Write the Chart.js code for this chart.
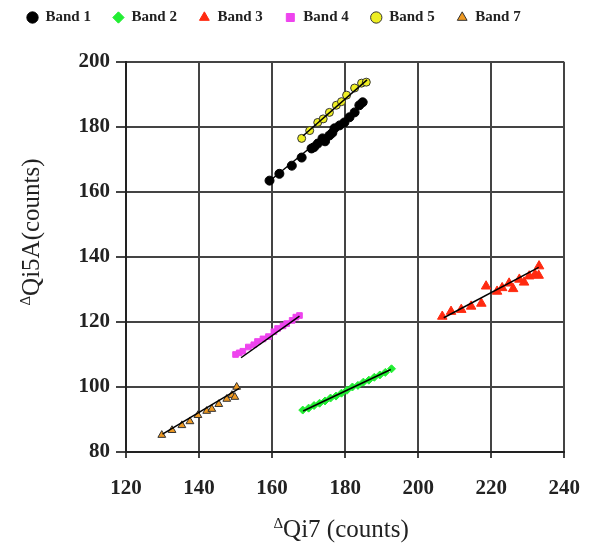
<!DOCTYPE html>
<html>
<head>
<meta charset="utf-8">
<script src="https://cdn.jsdelivr.net/npm/chart.js@4/dist/chart.umd.min.js"></script>
<style>
    html, body { margin: 0; padding: 0; background: #fff; }
    #wrap { width: 598px; height: 548px; }
</style>
</head>
<body>
<div id="wrap"><canvas id="chart-canvas"></canvas></div>
<script>
// Band data: [ΔQi7, ΔQi5A]
const band1 = [[159.3,163.5],[162,165.6],[165.4,168.1],[168.1,170.6],[170.8,173.4],[172.5,174.9],[173.8,176.5],[175.7,177.4],[177.1,179.6],[178.5,180.5],[179.8,181.4],[181.2,183],[182.6,184.5],[183.9,186.7],[184.8,187.6],[174.5,175.6],[176.5,178.2],[171.5,173.8]];
const band2 = [[168.4,92.9],[170,93.5],[171.5,94.3],[173,95],[174.5,95.7],[176,96.6],[177.5,97.2],[179,98.1],[180.5,99],[182,100],[183.5,100.5],[185,101.5],[186.5,102.1],[188,103],[189.5,103.7],[191,104.5],[192.7,105.6]];
const band3 = [[206.6,121.7],[209,123.2],[211.8,123.8],[214.5,124.8],[217.3,125.7],[218.6,131],[221.6,129.4],[223,130.5],[224.9,131.9],[226,130.2],[227.7,133.1],[229,132.2],[230.4,134.1],[232,134.6],[233.1,137.2],[233,134.3]];
const band4 = [[150,110],[151,110.5],[152,111],[153.5,112.3],[155,113],[156,114],[157.5,114.8],[159,115.5],[160.5,117],[161.5,118],[163,118.8],[164,119.5],[165.5,120.5],[166.5,121.5],[167.5,122]];
const band5 = [[168.1,176.5],[170.3,178.9],[172.5,181.4],[174,182.5],[175.7,184.5],[177.6,186.7],[179,187.8],[180.4,189.8],[182.6,192],[184.5,193.5],[185.8,193.8]];
const band7 = [[129.8,85.2],[132.6,86.7],[135.3,88.2],[137.5,89.4],[139.7,91.3],[142.1,92.6],[143.5,93.2],[145.4,94.7],[147.6,96.3],[149,97.5],[149.8,96.9],[150.3,100]];

// fitted lines (end points)
const fit1 = [[160,164],[186,188]];
const fit2 = [[168.5,92.6],[192.5,105.4]];
const fit3 = [[207,121.3],[233,136.8]];
const fit4 = [[151.5,109],[167.5,121.8]];
const fit5 = [[168.5,177.3],[186,194.5]];
const fit7 = [[130,85.5],[151,99.6]];

const xTicks = [120, 140, 160, 180, 200, 220, 240];
const yTicks = [80, 100, 120, 140, 160, 180, 200];

const xTitle = 'Qi7 (counts)';
const yTitle = 'Qi5A(counts)';

const toPts = arr => arr.map(p => ({ x: p[0], y: p[1] }));

function pointSet(label, data, style, fill, stroke, radius) {
    return {
        label: label,
        data: toPts(data),
        pointStyle: style,
        backgroundColor: fill,
        borderColor: stroke,
        borderWidth: 1,
        pointRadius: radius,
        order: 1
    };
}

function fitSet(data) {
    return {
        label: 'fit',
        data: toPts(data),
        showLine: true,
        borderColor: '#000',
        borderWidth: 1.5,
        pointRadius: 0,
        order: 0
    };
}

const serif = "'Liberation Serif', 'Times New Roman', serif";

// small raised delta followed by the title text
function drawDeltaTitle(ctx, text, cx, cy) {
    ctx.font = '15px ' + serif;
    const dw = ctx.measureText('Δ').width;
    ctx.font = '25px ' + serif;
    const tw = ctx.measureText(text).width;
    let x = cx - (dw + tw) / 2;
    ctx.textBaseline = 'alphabetic';
    ctx.textAlign = 'left';
    ctx.fillStyle = '#222';
    ctx.font = '15px ' + serif;
    ctx.fillText('Δ', x, cy - 1);
    ctx.font = '25px ' + serif;
    ctx.fillText(text, x + dw, cy + 8);
}

const axisTitles = {
    id: 'axisTitles',
    afterDraw(chart) {
        const ctx = chart.ctx;
        const area = chart.chartArea;
        ctx.save();
        drawDeltaTitle(ctx, xTitle, (area.left + area.right) / 2 - 4, 529);
        ctx.translate(31, 232);
        ctx.rotate(-Math.PI / 2);
        drawDeltaTitle(ctx, yTitle, 0, 0);
        ctx.restore();
    }
};

// legend sits higher with a gap below it
const legendSpace = {
    id: 'legendSpace',
    beforeInit(chart) {
        const fit = chart.legend.fit;
        chart.legend.fit = function() {
            fit.call(this);
            this.height = 62;
        };
    },
    afterLayout(chart) {
        chart.legend.top = -12;
        chart.legend.left = 5;
    }
};

document.addEventListener('DOMContentLoaded', function() {
    const ctx = document.getElementById('chart-canvas').getContext('2d');
    new Chart(ctx, {
        type: 'scatter',
        data: {
            datasets: [
                pointSet('Band 1', band1, 'circle', '#000', '#000', 4.5),
                pointSet('Band 2', band2, 'rectRot', '#22ee33', '#22ee33', 4),
                pointSet('Band 3', band3, 'triangle', '#ff2a10', '#ff2a10', 5.5),
                pointSet('Band 4', band4, 'rect', '#ee44ee', '#ee44ee', 4),
                pointSet('Band 5', band5, 'circle', '#eeee22', '#333', 4),
                pointSet('Band 7', band7, 'triangle', '#ee9922', '#333', 4.5),
                fitSet(fit1), fitSet(fit2), fitSet(fit3),
                fitSet(fit4), fitSet(fit5), fitSet(fit7)
            ]
        },
        plugins: [legendSpace, axisTitles],
        options: {
            responsive: true,
            maintainAspectRatio: false,
            animation: false,
            layout: { padding: { left: 0, right: 33, top: 0, bottom: 0 } },
            scales: {
                x: {
                    type: 'linear',
                    min: 120,
                    max: 240,
                    afterBuildTicks: s => { s.ticks = xTicks.map(v => ({ value: v })); },
                    afterFit: s => { s.height = 96; },
                    grid: { color: '#444', lineWidth: 2, tickLength: 6 },
                    border: { color: '#222', width: 2 },
                    ticks: { color: '#222', font: { family: serif, size: 21, weight: 'bold' }, padding: 18 }
                },
                y: {
                    type: 'linear',
                    min: 80,
                    max: 200,
                    afterBuildTicks: s => { s.ticks = yTicks.map(v => ({ value: v })); },
                    afterFit: s => { s.width = 126; },
                    grid: { color: '#444', lineWidth: 2, tickLength: 10 },
                    border: { color: '#222', width: 2 },
                    ticks: { color: '#222', font: { family: serif, size: 21, weight: 'bold' }, padding: 6 }
                }
            },
            plugins: {
                legend: {
                    position: 'top',
                    align: 'start',
                    labels: {
                        usePointStyle: true,
                        boxWidth: 11,
                        boxHeight: 8,
                        padding: 22,
                        color: '#222',
                        font: { family: serif, size: 15, weight: 'bold' },
                        filter: item => item.text !== 'fit'
                    }
                },
                tooltip: { enabled: false }
            }
        }
    });
});
</script>
</body>
</html>
